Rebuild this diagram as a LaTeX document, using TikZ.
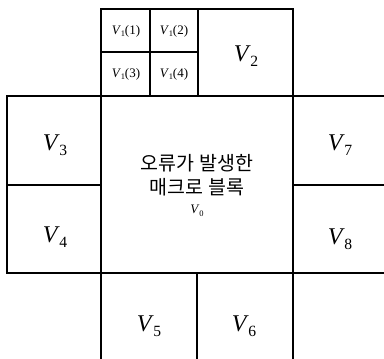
\documentclass[tikz,border=0pt]{standalone}
\usepackage{fontspec}
\setmainfont{Liberation Serif}
\newfontfamily\krfont{Noto Sans CJK KR}
\newcommand\Vsub[1]{\textit{V}\kern-0.02em\raisebox{-0.45ex}{\scalebox{0.65}{#1}}}
\tikzset{
  grid/.style={line width=2pt, line cap=rect},
  small/.style={font=\fontsize{13}{15}\selectfont, inner sep=0pt},
  big/.style={font=\fontsize{24}{26}\selectfont, inner sep=0pt},
  kr/.style={font=\krfont\fontsize{19.5}{24}\selectfont, align=center, inner sep=0pt}
}
\begin{document}
\begin{tikzpicture}[x=1pt,y=-1pt]
\useasboundingbox (0,0) rectangle (384,359);
\draw[grid] (101,359) -- (101,9) -- (293,9) -- (293,359);
\draw[grid] (7,96) -- (384,96);
\draw[grid] (7,273) -- (384,273);
\draw[grid] (7,96) -- (7,273);
\draw[grid] (7,185) -- (101,185);
\draw[grid] (293,185) -- (384,185);
\draw[grid] (150,9) -- (150,96);
\draw[grid] (198,9) -- (198,96);
\draw[grid] (101,52) -- (198,52);
\draw[grid] (197,273) -- (197,359);
\node[small] (v11) at (126,31) {\Vsub{1}(1)};
\node[small] (v12) at (174,31) {\Vsub{1}(2)};
\node[small] (v13) at (126,74) {\Vsub{1}(3)};
\node[small] (v14) at (174,74) {\Vsub{1}(4)};
\node[big] (v2) at (246,56) {\Vsub{2}};
\node[big] (v3) at (55,145) {\Vsub{3}};
\node[big] (v4) at (55,237) {\Vsub{4}};
\node[big] (v7) at (340,145) {\Vsub{7}};
\node[big] (v8) at (340,239) {\Vsub{8}};
\node[big] (v5) at (149,326) {\Vsub{5}};
\node[big] (v6) at (244,326) {\Vsub{6}};
\node[kr] (v0t) at (197,175) {오류가 발생한\\매크로 블록};
\node[small] (v0) at (197,211) {\Vsub{0}};
\end{tikzpicture}
\end{document}
